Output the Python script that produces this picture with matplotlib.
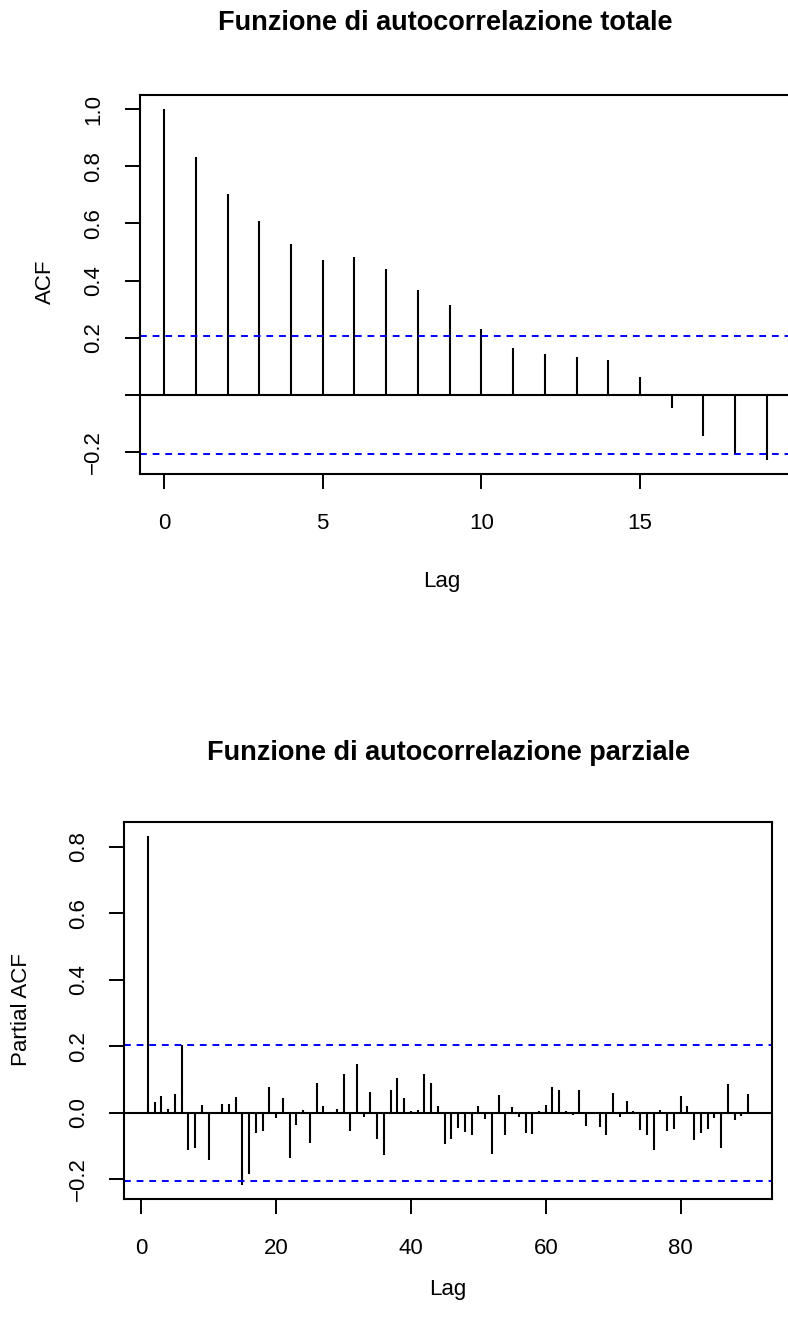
import matplotlib
matplotlib.use("Agg")
import matplotlib.pyplot as plt

plt.rcParams["font.family"] = ["Liberation Sans", "DejaVu Sans"]

ACF_LAGS = list(range(20))
ACF_VALUES = [1.0, 0.831, 0.702, 0.607, 0.527, 0.473, 0.484, 0.440, 0.367, 0.315,
              0.232, 0.165, 0.142, 0.134, 0.124, 0.062, -0.047, -0.143, -0.207, -0.227]
ACF_CI = 0.205

PACF_LAGS = list(range(1, 91))
PACF_VALUES = [
    0.834, 0.033, 0.050, 0.012, 0.057, 0.205, -0.113, -0.106, 0.025, -0.143,
    0.002, 0.028, 0.027, 0.048, -0.217, -0.185, -0.060, -0.053, 0.078, -0.016,
    0.045, -0.135, -0.035, 0.010, -0.090, 0.089, 0.021, 0.002, 0.013, 0.117,
    -0.055, 0.147, -0.012, 0.064, -0.080, -0.128, 0.070, 0.105, 0.044, 0.007,
    0.010, 0.117, 0.091, 0.022, -0.093, -0.078, -0.046, -0.056, -0.066, 0.022,
    -0.018, -0.123, 0.055, -0.068, 0.018, -0.013, -0.062, -0.063, 0.007, 0.023,
    0.079, 0.069, 0.006, -0.006, 0.068, -0.039, 0.003, -0.041, -0.066, 0.059,
    -0.013, 0.037, 0.006, -0.052, -0.067, -0.113, 0.008, -0.055, -0.048, 0.051,
    0.022, -0.082, -0.060, -0.049, -0.016, -0.106, 0.088, -0.022, -0.009, 0.057,
]
PACF_CI = 0.205

ACF_YTICKS = [-0.2, 0.0, 0.2, 0.4, 0.6, 0.8, 1.0]
ACF_YLABELS = ["\u22120.2", "", "0.2", "0.4", "0.6", "0.8", "1.0"]
ACF_XTICKS = [0, 5, 10, 15]
PACF_YTICKS = [-0.2, 0.0, 0.2, 0.4, 0.6, 0.8]
PACF_YLABELS = ["\u22120.2", "0.0", "0.2", "0.4", "0.6", "0.8"]
PACF_XTICKS = [0, 20, 40, 60, 80]

W, H = 788, 1317
FS = 16


def px_rect(left, top, right, bottom):
    return [left / W, 1 - bottom / H, (right - left) / W, (bottom - top) / H]


def corr_panel(rect, lags, values, ci, xlim, ylim, xticks, yticks, ylabels, ypad):
    ax = fig.add_axes(rect)
    ax.vlines(lags, 0, values, colors="black", lw=1.5)
    ax.axhline(0, color="black", lw=1.5)
    ax.axhline(ci, color="blue", lw=1.4, ls=(0, (3.5, 3)))
    ax.axhline(-ci, color="blue", lw=1.4, ls=(0, (3.5, 3)))
    ax.set_xlim(*xlim)
    ax.set_ylim(*ylim)
    ax.set_xticks(xticks)
    ax.set_yticks(yticks)
    ax.set_yticklabels(ylabels, rotation=90, va="center")
    ax.tick_params(length=11, width=1.4, labelsize=FS)
    ax.tick_params(axis="x", pad=17)
    ax.tick_params(axis="y", pad=ypad)
    for s in ax.spines.values():
        s.set_linewidth(1.5)
    return ax


fig = plt.figure(figsize=(W / 100, H / 100), dpi=100)

# autocorrelazione totale
corr_panel(px_rect(140, 95, 791, 474), ACF_LAGS, ACF_VALUES, ACF_CI,
           (-0.76, 19.76), (-0.276, 1.049), ACF_XTICKS, ACF_YTICKS, ACF_YLABELS, 15)
fig.text(445 / W, 1 - 23 / H, "Funzione di autocorrelazione totale",
         ha="center", va="center", fontsize=19.5, fontweight="bold")
fig.text(442 / W, 1 - 582 / H, "Lag", ha="center", va="center", fontsize=FS)
fig.text(45 / W, 1 - 282 / H, "ACF", ha="center", va="center", rotation=90, fontsize=FS)

# autocorrelazione parziale
corr_panel(px_rect(124, 821.6, 772, 1199), PACF_LAGS, PACF_VALUES, PACF_CI,
           (-2.56, 93.56), (-0.259, 0.876), PACF_XTICKS, PACF_YTICKS, PACF_YLABELS, 14)
fig.text(448 / W, 1 - 753 / H, "Funzione di autocorrelazione parziale",
         ha="center", va="center", fontsize=19.5, fontweight="bold")
fig.text(448 / W, 1 - 1290 / H, "Lag", ha="center", va="center", fontsize=FS)
fig.text(22 / W, 1 - 1010 / H, "Partial ACF", ha="center", va="center", rotation=90, fontsize=FS)

fig.savefig("out.png", dpi=100)
